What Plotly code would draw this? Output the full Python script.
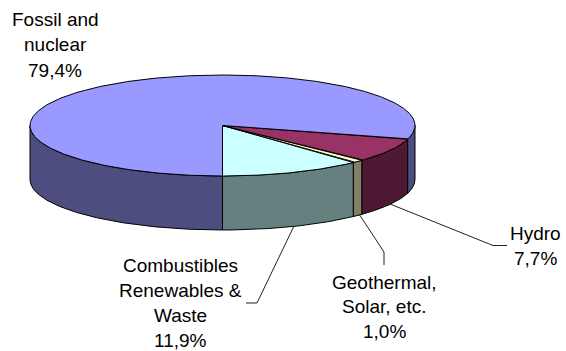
import numpy as np
import plotly.graph_objects as go

# Electricity generation shares, in percent, starting at the front of the disc and turning right
categories = ["Combustibles Renewables & Waste", "Geothermal, Solar, etc.", "Hydro", "Fossil and nuclear"]
shares = [11.9, 1.0, 7.7, 79.4]
top_colors = ["#CCFFFF", "#FFFFCC", "#993366", "#9999FF"]
side_colors = ["#668080", "#808066", "#4D1933", "#4D4D80"]

label_lines = [
    ["Combustibles", "Renewables &", "Waste", "11,9%"],
    ["Geothermal,", "Solar, etc.", "1,0%"],
    ["Hydro", "7,7%"],
    ["Fossil and", "nuclear", "79,4%"],
]

# Label anchors in pixels: centre x, first-line centre y, line spacing
label_pos = [(180, 265, 25), (384, 282, 24.5), (535, 233, 25), (55, 20, 25)]

# Leader line routes in pixels (none for the largest slice)
leaders = [
    [(294, 226), (257, 303), (246, 303)],
    [(359, 214), (384, 252), (384, 265)],
    [(390, 204), (493, 245.5), (507, 245.5)],
]

W, H = 566, 351
CX, CY, RX, RY, DEPTH = 222.5, 125.5, 192.5, 50.5, 54

TILT = RY / RX
THICK = DEPTH / RX


def arc(a0, a1):
    """Points on the unit rim between two angles (degrees from the front, towards the right)."""
    n = max(2, int(abs(a1 - a0) * 2))
    t = np.radians(np.linspace(a0, a1, n))
    return np.sin(t), -np.cos(t) * TILT


def side_polygon(a0, a1):
    x, y = arc(a0, a1)
    return np.r_[x, x[::-1], x[0]], np.r_[y, y[::-1] - THICK, y[0]]


def paper(px, py):
    return px / W, 1 - py / H


edges = np.r_[0, np.cumsum(shares)] * 3.6
fig = go.Figure()


def add_poly(x, y, color):
    fig.add_trace(go.Scatter(
        x=x, y=y, mode="lines", fill="toself", fillcolor=color,
        line=dict(color="#000000", width=1), hoverinfo="skip", showlegend=False,
    ))


# Rim faces: only the front half of the disc is visible
for i in range(len(shares)):
    a0, a1 = edges[i], edges[i + 1]
    for lo, hi in ((0, 90), (270, 360)):
        s, e = max(a0, lo), min(a1, hi)
        if s < e:
            add_poly(*side_polygon(s, e), side_colors[i])

# Top faces
for i in range(len(shares)):
    x, y = arc(edges[i], edges[i + 1])
    add_poly(np.r_[0, x, 0], np.r_[0, y, 0], top_colors[i])

annotations = []
for lines, (cx, cy, step) in zip(label_lines, label_pos):
    for k, line in enumerate(lines):
        ax, ay = paper(cx, cy + k * step)
        annotations.append(dict(
            x=ax, y=ay, xref="paper", yref="paper", text=line, showarrow=False,
            xanchor="center", yanchor="middle",
            font=dict(family="Liberation Sans, Arial, sans-serif", size=19, color="#000000"),
        ))

shapes = []
for route in leaders:
    for (x0, y0), (x1, y1) in zip(route[:-1], route[1:]):
        p0, p1 = paper(x0, y0), paper(x1, y1)
        shapes.append(dict(
            type="line", xref="paper", yref="paper",
            x0=p0[0], y0=p0[1], x1=p1[0], y1=p1[1],
            line=dict(color="#222222", width=1),
        ))

fig.update_layout(
    width=W, height=H, margin=dict(l=0, r=0, t=0, b=0),
    paper_bgcolor="white", plot_bgcolor="white", showlegend=False,
    annotations=annotations, shapes=shapes,
    xaxis=dict(visible=False, range=[-CX / RX, (W - CX) / RX]),
    yaxis=dict(visible=False, range=[(CY - H) / RX, CY / RX]),
)
fig.write_html("out.html")
